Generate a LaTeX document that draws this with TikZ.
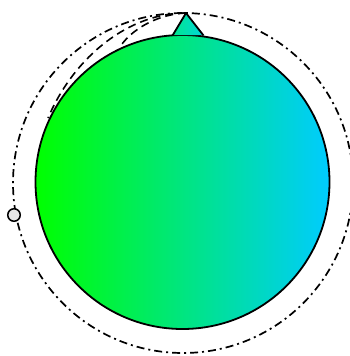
\documentclass[tikz,border=0pt]{standalone}
\begin{document}
\begin{tikzpicture}[x=1pt,y=-1pt,
  outline/.style={line width=1.8pt},
  orbit/.style={line width=1.7pt, dash pattern=on 8pt off 4pt on 2pt off 4pt},
  trace/.style={line width=1.6pt, dash pattern=on 8pt off 5pt}]
\useasboundingbox (0,0) rectangle (350,356);
\definecolor{gA}{RGB}{0,255,0}
\definecolor{gB}{RGB}{0,204,255}
\definecolor{tA}{RGB}{0,232,140}
\definecolor{tB}{RGB}{0,212,220}
\coordinate (c) at (182.5,182);
\coordinate (apex) at (186,13);
\coordinate (endA) at (48,118);
\coordinate (endB) at (122,44);
\node[circle, draw, line width=1.8pt, left color=gA, right color=gB, minimum size=294pt, inner sep=0pt] (dial) at (c) {};
\path[shade, left color=tA, right color=tB] (172,35) -- (apex) -- (204,35) -- cycle;
\draw[outline, line join=round] (172.5,35.5) -- (apex) -- (203.5,35.5);
\draw[orbit] (183,183) circle[radius=170];
\draw[trace] (apex) .. controls (130,13) and (75,55) .. (endA);
\draw[trace] (apex) .. controls (160,14) and (135,27) .. (endB);
\node[circle, draw, fill=gray!20, line width=1.5pt, minimum size=12.5pt, inner sep=0pt] (knob) at (14,215) {};
\end{tikzpicture}
\end{document}
